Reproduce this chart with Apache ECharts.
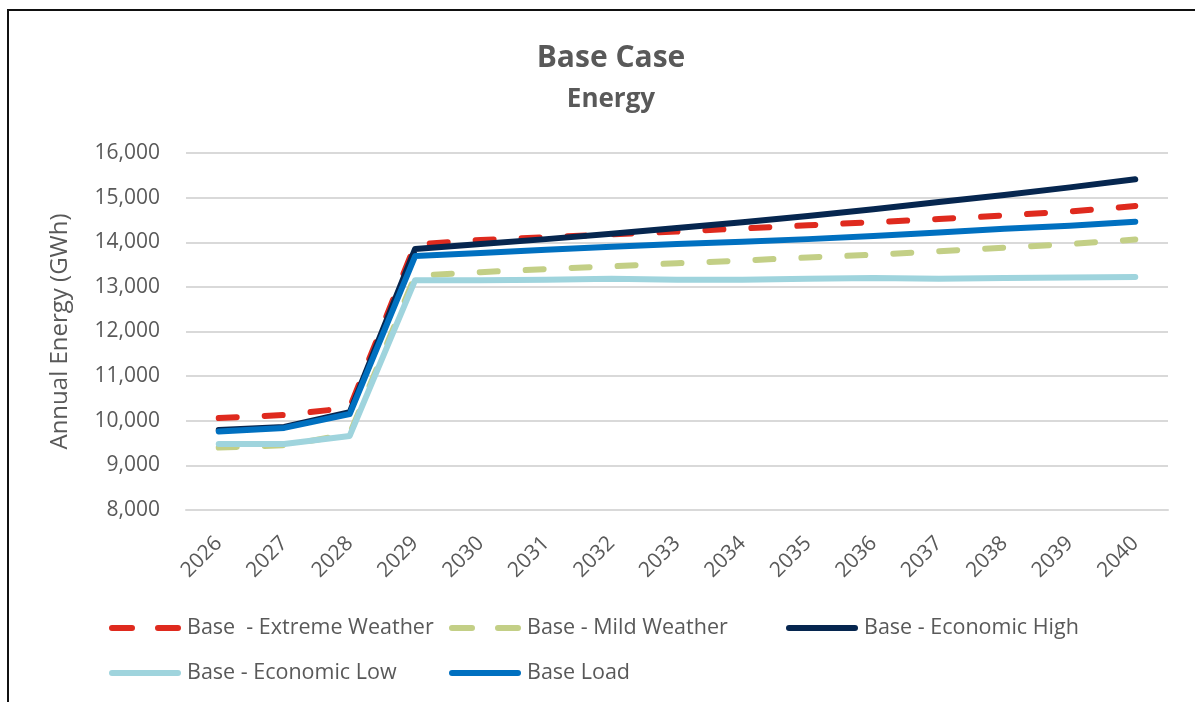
<!DOCTYPE html>
<html>
<head>
<meta charset="utf-8">
<style>
  html, body { margin: 0; padding: 0; background: #fff; }
  #chart { width: 1195px; height: 702px; }
</style>
<script src="https://cdn.jsdelivr.net/npm/echarts@6/dist/echarts.min.js"></script>
</head>
<body>
<div id="chart"></div>
<script>
// Annual energy forecast by scenario (GWh)
const years = ['2026','2027','2028','2029','2030','2031','2032','2033','2034','2035','2036','2037','2038','2039','2040'];

const extremeWeather = [10060, 10130, 10290, 13950, 14050, 14110, 14180, 14240, 14310, 14380, 14450, 14520, 14600, 14690, 14810];
const mildWeather    = [9400, 9450, 9700, 13250, 13330, 13400, 13460, 13530, 13590, 13660, 13720, 13800, 13880, 13960, 14060];
const economicHigh   = [9790, 9860, 10190, 13850, 13960, 14070, 14190, 14320, 14450, 14590, 14740, 14900, 15060, 15230, 15410];
const economicLow    = [9480, 9480, 9660, 13150, 13150, 13160, 13180, 13160, 13160, 13180, 13200, 13180, 13200, 13210, 13220];
const baseLoad       = [9760, 9840, 10150, 13690, 13760, 13830, 13900, 13960, 14010, 14070, 14140, 14220, 14300, 14370, 14460];

const seriesNames = ['Base  - Extreme Weather', 'Base - Mild Weather', 'Base - Economic High', 'Base - Economic Low', 'Base Load'];
const seriesColors = ['#DF2A1E', '#C3CF86', '#06264F', '#9FD4DD', '#0070C0'];

const FONT = '"Open Sans", "Noto Sans", sans-serif';
const TEXT = '#595959';

// Legend keys: two rounded dashes for dashed series, one rounded bar for solid ones
const DASH_ICON  = 'path://M3,0H23A3,3 0 0 1 23,6H3A3,3 0 0 1 3,0Z M49,0H69A3,3 0 0 1 69,6H49A3,3 0 0 1 49,0Z';
const SOLID_ICON = 'path://M3,0H69A3,3 0 0 1 69,6H3A3,3 0 0 1 3,0Z';

function lineSeries(i, data, dashed) {
  return {
    name: seriesNames[i],
    type: 'line',
    data: data,
    symbol: 'none',
    smooth: false,
    lineStyle: {
      color: seriesColors[i],
      width: 6,
      type: dashed ? [18, 28] : 'solid',
      cap: 'round',
      join: 'round'
    },
    itemStyle: { color: seriesColors[i] }
  };
}

function legendItem(i, left, top, dashed) {
  return {
    data: [{ name: seriesNames[i], icon: dashed ? DASH_ICON : SOLID_ICON }],
    left: left,
    top: top,
    itemWidth: 74,
    itemHeight: 6,
    itemStyle: { borderWidth: 0 },
    textStyle: { fontFamily: FONT, fontSize: 21.5, color: TEXT },
    selectedMode: false
  };
}

const chart = echarts.init(document.getElementById('chart'));
chart.setOption({
  backgroundColor: '#ffffff',
  animation: false,
  title: {
    text: 'Base Case',
    subtext: 'Energy',
    left: 606,
    top: 38,
    textAlign: 'center',
    itemGap: 14,
    textStyle: { fontFamily: FONT, fontSize: 30, fontWeight: 'bold', color: TEXT },
    subtextStyle: { fontFamily: FONT, fontSize: 26, fontWeight: 'bold', color: TEXT }
  },
  graphic: [{
    type: 'rect',
    shape: { x: 8, y: 10, width: 1200, height: 720 },
    style: { fill: 'none', stroke: '#111', lineWidth: 2 },
    silent: true,
    z: 100
  }],
  grid: { left: 186, right: 27, top: 153, bottom: 192 },
  legend: [
    legendItem(0, 104, 612, true),
    legendItem(1, 444, 612, true),
    legendItem(2, 781, 612, false),
    legendItem(3, 104, 657, false),
    legendItem(4, 444, 657, false)
  ],
  xAxis: {
    type: 'category',
    data: years,
    boundaryGap: true,
    axisLine: { show: true, lineStyle: { color: '#D9D9D9', width: 2 } },
    axisTick: { show: false },
    axisLabel: {
      rotate: 45,
      margin: 30,
      fontFamily: FONT,
      fontSize: 21,
      color: TEXT
    }
  },
  yAxis: {
    type: 'value',
    min: 8000,
    max: 16000,
    interval: 1000,
    name: 'Annual Energy (GWh)',
    nameLocation: 'middle',
    nameRotate: 90,
    nameGap: 114,
    nameTextStyle: { fontFamily: FONT, fontSize: 24, color: TEXT },
    axisLine: { show: false },
    axisTick: { show: false },
    splitLine: { lineStyle: { color: '#D9D9D9', width: 2 } },
    axisLabel: {
      margin: 26,
      fontFamily: FONT,
      fontSize: 21,
      color: TEXT,
      formatter: function (v) { return v.toLocaleString('en-US'); }
    }
  },
  series: [
    lineSeries(0, extremeWeather, true),
    lineSeries(1, mildWeather, true),
    lineSeries(2, economicHigh, false),
    lineSeries(3, economicLow, false),
    lineSeries(4, baseLoad, false)
  ]
});
</script>
</body>
</html>
